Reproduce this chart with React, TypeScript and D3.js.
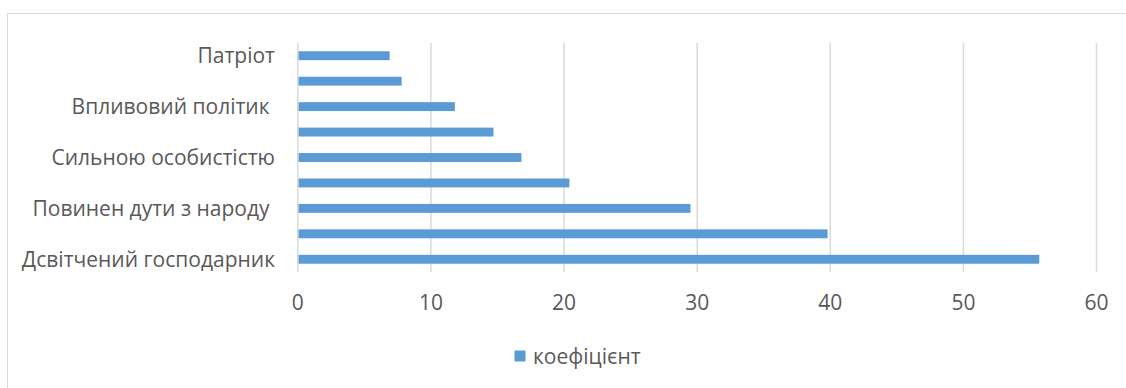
import React from "react";
import * as d3 from "d3";

// Categories listed from top to bottom (only every other axis label is shown in the chart)
const categories: string[] = [
  "Патріот",
  "—2",
  "Впливовий політик ",
  "—4",
  "Сильною особистістю",
  "—6",
  "Повинен дути з народу ",
  "—8",
  "Дсвітчений господарник",
];
const shownLabels: boolean[] = [true, false, true, false, true, false, true, false, true];
const values: number[] = [6.9, 7.8, 11.8, 14.7, 16.8, 20.4, 29.5, 39.8, 55.7];
const xTicks: number[] = [0, 10, 20, 30, 40, 50, 60];
const seriesName = "коефіцієнт";

const W = 1126;
const H = 388;
const FONT = "'Open Sans', Lato, sans-serif";
const TEXT = "#595959";
const GRID = "#d9d9d9";
const BAR = "#5b9bd5";

export default function App() {
  const x = d3.scaleLinear().domain([0, 60]).range([297.8, 1096.5]);
  const y = d3
    .scaleBand<string>()
    .domain(categories)
    .range([43, 272])
    .paddingInner(0.65)
    .paddingOuter(0.325);

  return (
    <svg
      width={W}
      height={H}
      style={{ position: "absolute", left: 0, top: 0, display: "block", background: "#fff" }}
    >
      <rect x={7.5} y={13.5} width={W + 20} height={H + 20} fill="#fff" stroke={GRID} strokeWidth={1} />
      {xTicks.map((t) => (
        <line key={"g" + t} x1={x(t)} x2={x(t)} y1={43} y2={272} stroke={GRID} strokeWidth={1.5} />
      ))}
      {categories.map((c, i) => (
        <rect
          key={"b" + i}
          x={x(0) + 0.75}
          y={y(c)}
          width={x(values[i]) - x(0) - 0.75}
          height={y.bandwidth()}
          fill={BAR}
        />
      ))}
      {categories.map((c, i) =>
        shownLabels[i] ? (
          <text
            key={"l" + i}
            x={275}
            y={(y(c) ?? 0) + y.bandwidth() / 2}
            dy="0.35em"
            textAnchor="end"
            fontFamily={FONT}
            fontSize={21}
            fill={TEXT}
            style={{ whiteSpace: "pre" }}
          >
            {c}
          </text>
        ) : null
      )}
      {xTicks.map((t) => (
        <text
          key={"t" + t}
          x={x(t)}
          y={303}
          dy="0.35em"
          textAnchor="middle"
          fontFamily={FONT}
          fontSize={21}
          fill={TEXT}
        >
          {t}
        </text>
      ))}
      <rect x={514.5} y={350.5} width={11} height={11} fill={BAR} />
      <text x={533} y={357} dy="0.35em" fontFamily={FONT} fontSize={21} fill={TEXT}>
        {seriesName}
      </text>
    </svg>
  );
}
